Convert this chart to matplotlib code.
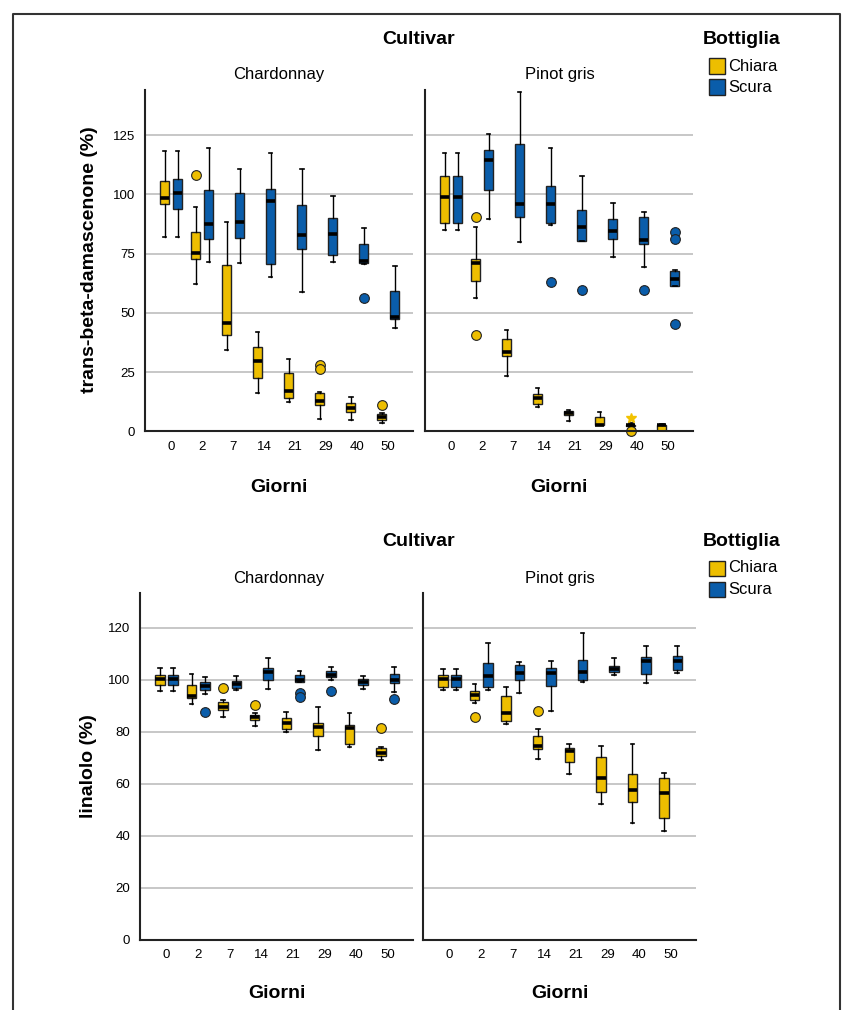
import numpy as np
import matplotlib
matplotlib.use("Agg")
import matplotlib.pyplot as plt
from matplotlib.patches import Rectangle
from matplotlib.lines import Line2D

plt.rcParams['font.family'] = ['Liberation Sans', 'DejaVu Sans']

# data: (whisker low, Q1, median, Q3, whisker high) per day
days = ["0", "2", "7", "14", "21", "29", "40", "50"]

dam_chard_chiara = [(82.1, 95.9, 98.3, 105.8, 118.2), (62.0, 72.7, 75.4, 84.0, 94.6),
                    (34.4, 40.5, 45.6, 70.2, 88.2), (16.2, 22.4, 29.7, 35.8, 41.8),
                    (12.6, 14.0, 17.1, 24.8, 30.4), (5.3, 11.2, 12.9, 16.1, 16.7),
                    (4.9, 8.4, 10.0, 12.2, 14.7), (3.6, 4.8, 6.0, 7.2, 7.6)]
dam_chard_chiara_out = [[], [108.3], [], [], [], [28.0, 26.5], [], [11.0]]
dam_chard_scura = [(82.1, 93.7, 100.7, 106.6, 118.2), (71.5, 81.3, 87.6, 101.7, 119.7),
                   (70.9, 81.5, 88.3, 100.5, 110.7), (65.3, 70.6, 97.3, 102.1, 117.3),
                   (58.8, 76.8, 82.8, 95.6, 110.8), (71.5, 74.3, 83.1, 90.1, 99.5),
                   (70.6, 71.2, 71.9, 78.9, 85.7), (43.5, 47.3, 48.1, 59.2, 69.8)]
dam_chard_scura_out = [[], [], [], [], [], [], [56.3], []]

dam_pinot_chiara = [(85.1, 88.0, 99.0, 107.6, 117.5), (56.4, 63.6, 70.9, 72.6, 86.1),
                    (23.5, 31.8, 33.4, 38.9, 42.8), (10.2, 11.6, 14.0, 15.7, 18.2),
                    (4.4, 6.8, 7.9, 8.8, 9.1), (2.6, 2.6, 2.9, 6.0, 8.2),
                    (2.3, 2.3, 2.6, 2.9, 3.7), (0.1, 0.1, 2.6, 2.9, 3.2)]
dam_pinot_chiara_out = [[], [90.3, 40.7], [], [], [], [], [0.0], []]
dam_pinot_chiara_ext = [None, None, None, None, None, None, 5.8, None]
dam_pinot_scura = [(85.1, 88.0, 99.0, 107.6, 117.5), (89.7, 101.7, 114.5, 118.7, 125.3),
                   (79.9, 90.6, 95.9, 121.2, 143.0), (86.9, 88.0, 96.0, 103.5, 119.7),
                   (80.2, 80.5, 86.3, 93.2, 107.9), (73.4, 81.3, 84.7, 89.4, 96.2),
                   (69.5, 79.0, 80.7, 90.4, 92.7), (61.2, 61.5, 64.3, 67.8, 68.0)]
dam_pinot_scura_out = [[], [], [], [63.2], [59.6], [], [59.5], [84.1, 81.2, 45.2]]

lin_chard_chiara = [(95.7, 97.9, 100.3, 101.7, 104.3), (90.6, 92.8, 93.7, 97.8, 102.2),
                    (85.6, 88.1, 89.6, 91.5, 92.1), (82.2, 84.6, 85.6, 86.3, 87.2),
                    (79.8, 81.1, 83.1, 85.1, 87.6), (72.8, 78.3, 81.9, 83.4, 89.6),
                    (74.0, 75.1, 81.4, 82.6, 87.1), (68.9, 70.6, 71.7, 73.8, 74.0)]
lin_chard_chiara_out = [[], [], [96.9], [90.4], [], [], [], [81.5]]
lin_chard_scura = [(95.7, 97.8, 100.1, 101.9, 104.3), (94.3, 95.8, 97.6, 99.2, 100.8),
                   (95.8, 96.7, 98.1, 99.5, 101.5), (96.5, 99.7, 102.9, 104.6, 108.4),
                   (99.2, 99.2, 99.8, 101.6, 103.4), (99.8, 100.8, 101.9, 103.3, 104.9),
                   (96.3, 97.8, 99.0, 100.3, 101.4), (95.3, 98.8, 99.9, 102.1, 104.7)]
lin_chard_scura_out = [[], [87.6], [], [], [95.0, 93.2], [95.7], [], [92.5]]

lin_pinot_chiara = [(95.9, 97.0, 100.3, 101.7, 104.2), (90.8, 92.2, 94.2, 95.6, 98.1),
                    (83.0, 84.0, 87.1, 93.8, 97.2), (69.4, 73.4, 74.3, 78.3, 81.1),
                    (63.5, 68.1, 72.5, 73.8, 75.2), (52.3, 56.9, 62.1, 70.3, 74.3),
                    (44.7, 52.9, 57.6, 63.5, 75.1), (41.9, 46.6, 56.2, 62.3, 64.0)]
lin_pinot_chiara_out = [[], [85.6], [], [88.0], [], [], [], []]
lin_pinot_scura = [(95.9, 97.0, 100.3, 101.7, 104.2), (95.8, 97.3, 101.3, 106.2, 114.2),
                   (94.8, 99.7, 102.4, 105.7, 106.9), (88.0, 97.4, 102.4, 104.3, 107.3),
                   (98.9, 99.9, 103.0, 107.4, 118.1), (101.6, 102.8, 103.9, 105.1, 108.4),
                   (98.8, 102.0, 107.2, 108.6, 112.8), (102.6, 103.6, 107.2, 108.9, 113.0)]
lin_pinot_scura_out = [[], [], [], [], [], [], [], []]

dam_ticks = [0, 25, 50, 75, 100, 125]
lin_ticks = [0, 20, 40, 60, 80, 100, 120]

CHIARA = "#EDBE00"
SCURA = "#0A5DAA"

W, H = 847, 1010


def fx(x):
    return x / W


def fy(y):
    return 1 - y / H


def box_stats(rows, outs):
    stats = []
    for (lo, q1, med, q3, hi), fl in zip(rows, outs):
        stats.append(dict(whislo=lo, q1=q1, med=med, q3=q3, whishi=hi, fliers=fl))
    return stats


def add_axes(fig, x0, x1, y0, y1):
    return fig.add_axes([fx(x0), fy(y1), fx(x1) - fx(x0), (y1 - y0) / H])


def draw_panel(ax, groups, ylim, yticks, show_ylabels):
    pos = np.arange(len(days))
    for rows, outs, color, shift in groups:
        res = ax.bxp(box_stats(rows, outs), positions=pos + shift, widths=0.3,
                     capwidths=0.12, patch_artist=True, manage_ticks=False,
                     boxprops=dict(facecolor=color, edgecolor="#222222", linewidth=1),
                     medianprops=dict(color="black", linewidth=2.6),
                     whiskerprops=dict(color="black", linewidth=1),
                     capprops=dict(color="black", linewidth=1.2),
                     flierprops=dict(marker="o", markerfacecolor=color,
                                     markeredgecolor="#222222", markersize=7,
                                     markeredgewidth=0.8))
        for f in res["fliers"]:
            f.set_clip_on(False)
    ax.set_xlim(-0.84, 7.8)
    ax.set_ylim(*ylim)
    ax.set_yticks(yticks)
    ax.set_xticks(pos)
    ax.set_xticklabels(days, fontsize=9.5)
    ax.yaxis.grid(True, color="#bdbdbd", linewidth=1.2)
    ax.set_axisbelow(True)
    ax.tick_params(length=0, pad=7, labelsize=9.5)
    if not show_ylabels:
        ax.tick_params(labelleft=False)
    for s in ["top", "right"]:
        ax.spines[s].set_visible(False)
    for s in ["left", "bottom"]:
        ax.spines[s].set_color("#222222")
        ax.spines[s].set_linewidth(1.5)


fig = plt.figure(figsize=(W / 100, H / 100), dpi=100)

# top row: trans-beta-damascenone
ax1 = add_axes(fig, 145, 413, 90, 431.5)
ax2 = add_axes(fig, 425, 693, 90, 431.5)
draw_panel(ax1, [(dam_chard_chiara, dam_chard_chiara_out, CHIARA, -0.21),
                 (dam_chard_scura, dam_chard_scura_out, SCURA, 0.21)],
           (0, 144), dam_ticks, True)
draw_panel(ax2, [(dam_pinot_chiara, dam_pinot_chiara_out, CHIARA, -0.21),
                 (dam_pinot_scura, dam_pinot_scura_out, SCURA, 0.21)],
           (0, 144), dam_ticks, False)
for i, v in enumerate(dam_pinot_chiara_ext):
    if v is not None:
        ax2.plot(i - 0.21, v, marker="*", color="#F2C200", markersize=7, clip_on=False)

# bottom row: linalolo
ax3 = add_axes(fig, 140, 413, 593, 939.5)
ax4 = add_axes(fig, 423, 696, 593, 939.5)
draw_panel(ax3, [(lin_chard_chiara, lin_chard_chiara_out, CHIARA, -0.21),
                 (lin_chard_scura, lin_chard_scura_out, SCURA, 0.21)],
           (0, 133.3), lin_ticks, True)
draw_panel(ax4, [(lin_pinot_chiara, lin_pinot_chiara_out, CHIARA, -0.21),
                 (lin_pinot_scura, lin_pinot_scura_out, SCURA, 0.21)],
           (0, 133.3), lin_ticks, False)

# titles and labels
bold = dict(fontsize=14, fontweight="bold", ha="center", va="center")
for top, ylab, yc, lx in [(0, "trans-beta-damascenone (%)", 260, 90),
                          (502, "linalolo (%)", 766, 88)]:
    fig.text(fx(419), fy(39 + top), "Cultivar", **bold)
    fig.text(fx(742), fy(39 + top), "Bottiglia", **bold)
    fig.text(fx(279), fy(74 + top + (3 if top else 0)), "Chardonnay", fontsize=12,
             ha="center", va="center")
    fig.text(fx(560), fy(74 + top + (3 if top else 0)), "Pinot gris", fontsize=12,
             ha="center", va="center")
    fig.text(fx(lx), fy(yc), ylab, rotation=90, **bold)
    for label, color, yy in [("Chiara", CHIARA, 66), ("Scura", SCURA, 87)]:
        fig.patches.append(Rectangle((fx(709), fy(yy + top + 7.5)), 16 / W, 15 / H,
                                     facecolor=color, edgecolor="#222222", linewidth=1,
                                     transform=fig.transFigure))
        fig.text(fx(728), fy(yy + top), label, fontsize=12, ha="left", va="center")

fig.text(fx(279), fy(487), "Giorni", **bold)
fig.text(fx(559), fy(487), "Giorni", **bold)
fig.text(fx(277), fy(993), "Giorni", **bold)
fig.text(fx(560), fy(993), "Giorni", **bold)

# frame around the figure (open at the bottom)
frame = dict(color="#333333", linewidth=1.5, transform=fig.transFigure)
fig.lines.append(Line2D([fx(13), fx(13), fx(840), fx(840)],
                        [0, fy(14), fy(14), 0], **frame))

fig.savefig("out.png", dpi=100)
